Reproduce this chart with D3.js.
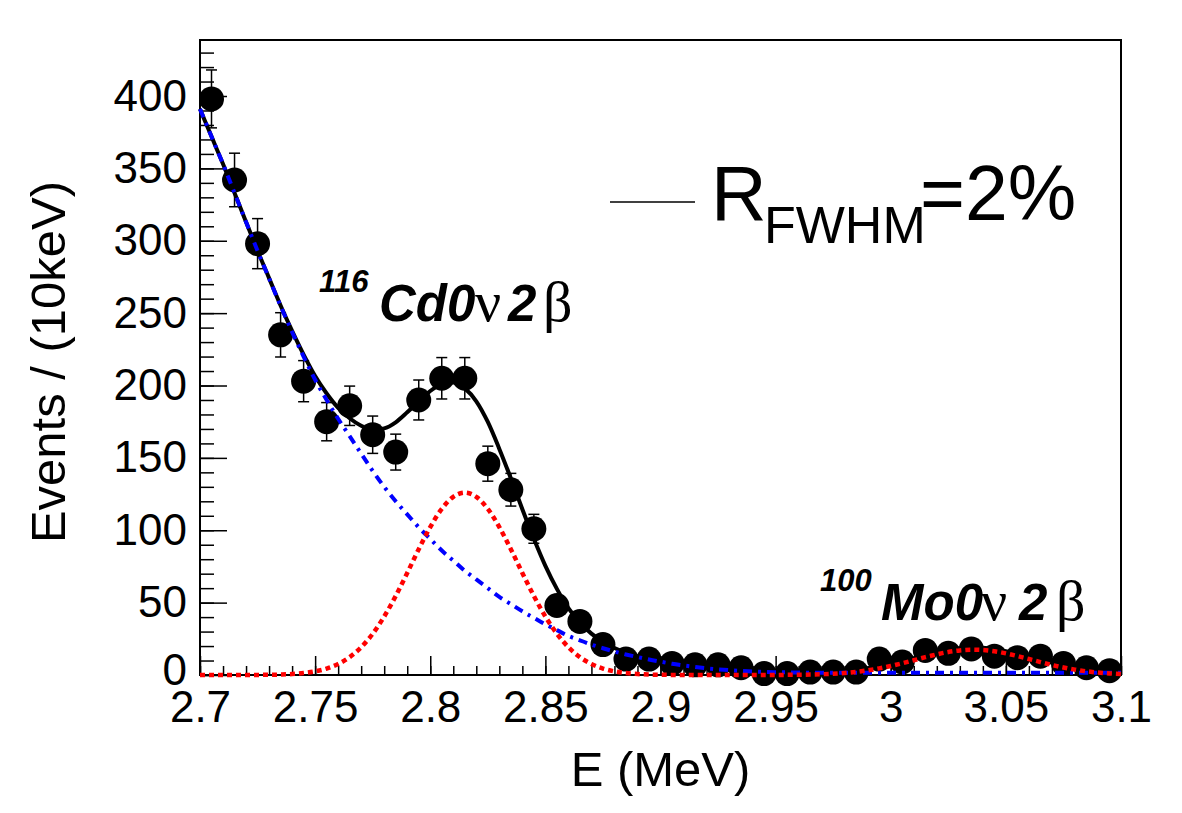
<!DOCTYPE html>
<html><head><meta charset="utf-8">
<script src="https://cdn.jsdelivr.net/npm/d3@7"></script>
<style>body{margin:0;background:#fff} svg{display:block}</style>
</head><body><svg id="c" width="1182" height="813"></svg>
<script>
// ---------- data ----------
const binCenters = [2.705,2.715,2.725,2.735,2.745,2.755,2.765,2.775,2.785,2.795,
  2.805,2.815,2.825,2.835,2.845,2.855,2.865,2.875,2.885,2.895,
  2.905,2.915,2.925,2.935,2.945,2.955,2.965,2.975,2.985,2.995,
  3.005,3.015,3.025,3.035,3.045,3.055,3.065,3.075,3.085,3.095];
const counts = [398,342,298,235,203,175,186,166,154,190,
  205,205,146,128,101,48,37,21,11,11,
  8,7,7,5,1,1,2,2,2,11,
  9,17,15,18,13,12,13,8,5,3];
const errors = [20.0,18.5,17.3,15.3,14.2,13.2,13.6,12.9,12.4,13.8,
  14.3,14.3,12.1,11.3,10.0,6.9,6.1,4.6,3.3,3.3,
  2.8,2.6,2.6,2.2,1.0,1.0,1.4,1.4,1.4,3.3,
  3.0,4.1,3.9,4.2,3.6,3.5,3.6,2.8,2.2,1.7];
const binHalfWidth = 0.005;

const curveE = [2.700,2.705,2.710,2.715,2.720,2.725,2.730,2.735,2.740,2.745,
  2.750,2.755,2.760,2.765,2.770,2.775,2.780,2.785,2.790,2.795,
  2.800,2.805,2.810,2.815,2.820,2.825,2.830,2.835,2.840,2.845,
  2.850,2.855,2.860,2.865,2.870,2.875,2.880,2.885,2.890,2.895,
  2.900,2.905,2.910,2.915,2.920,2.925,2.930,2.935,2.940,2.945,
  2.950,2.955,2.960,2.965,2.970,2.975,2.980,2.985,2.990,2.995,
  3.000,3.005,3.010,3.015,3.020,3.025,3.030,3.035,3.040,3.045,
  3.050,3.055,3.060,3.065,3.070,3.075,3.080,3.085,3.090,3.095,3.100];
const bgFit = [391,372,353,333,313,293,274,255,237,220,
  204,190,177,165,153,141,130,120,111,102,
  94,86,79,72,66,60,54,49,44,39.5,
  35,31,27,24,21,18.5,16.2,14.2,12.4,10.7,
  9.2,7.8,6.6,5.5,4.6,3.9,3.3,2.8,2.4,2.1,
  1.9,1.8,1.7,1.6,1.6,1.5,1.5,1.5,1.5,1.5,
  1.5,1.5,1.5,1.5,1.5,1.5,1.5,1.5,1.5,1.5,
  1.5,1.5,1.5,1.5,1.5,1.5,1.5,1.5,1.5,1.5,1.5];
const sigFit = [0,0,0,0,0.03,0.07,0.15,0.33,0.68,1.33,
  2.49,4.45,7.58,12.35,19.2,28.5,40.4,54.6,70.5,86.9,
  102.2,114.8,123.1,126,123.1,114.8,102.2,86.9,70.5,54.6,
  40.4,28.5,19.2,12.35,7.58,4.45,2.49,1.33,0.68,0.33,
  0.15,0.07,0.03,0,0,0,0,0.005,0.01,0.02,
  0.05,0.09,0.17,0.31,0.54,0.89,1.42,2.18,3.22,4.56,
  6.21,8.11,10.19,12.30,14.26,15.88,17.00,17.49,17.28,16.40,
  14.96,13.11,11.04,8.93,6.94,5.18,3.72,2.56,1.70,1.08,0.66];
const totFit = [391,372,353,333,313,293.1,274.2,255.3,237.7,221.3,
  206.5,194.5,184.6,177.4,172.2,169.5,170.4,174.6,181.5,188.9,
  196.2,200.8,202.1,198,189.1,174.8,156.2,135.9,114.5,94.1,
  75.4,59.5,46.2,36.35,28.58,22.95,18.69,15.53,13.08,11.03,
  9.35,7.87,6.63,5.5,4.6,3.9,3.3,2.8,2.41,2.12,
  1.95,1.89,1.87,1.91,2.14,2.39,2.92,3.68,4.72,6.06,
  7.71,9.61,11.69,13.80,15.76,17.38,18.50,18.99,18.78,17.90,
  16.46,14.61,12.54,10.43,8.44,6.68,5.22,4.06,3.20,2.58,2.16];

const xTicks = [2.7,2.75,2.8,2.85,2.9,2.95,3.0,3.05,3.1];
const xTickLabels = ["2.7","2.75","2.8","2.85","2.9","2.95","3","3.05","3.1"];
const yTicks = [0,50,100,150,200,250,300,350,400];
const yTickLabels = ["0","50","100","150","200","250","300","350","400"];

// ---------- layout ----------
const svg = d3.select("#c");
const L = 200, R = 1121, T = 40, B = 675;
const x = d3.scaleLinear().domain([2.7, 3.1]).range([L, R]);
const y = d3.scaleLinear().domain([0, 438.7]).range([B, T]);
const FONT = "'Liberation Sans', Arial, Helvetica, sans-serif";

svg.append("rect").attr("width",1182).attr("height",813).attr("fill","#fff");

// minor ticks
const gxm = svg.append("g").attr("transform",`translate(0,${B})`)
  .call(d3.axisBottom(x).ticks(40).tickSize(-9).tickFormat(""));
const gym = svg.append("g").attr("transform",`translate(${L},0)`)
  .call(d3.axisLeft(y).ticks(44).tickSize(-14).tickFormat(""));
// major ticks
const gx = svg.append("g").attr("transform",`translate(0,${B})`)
  .call(d3.axisBottom(x).tickValues(xTicks).tickSize(-19).tickPadding(16)
     .tickFormat((d,i)=>xTickLabels[i]));
const gy = svg.append("g").attr("transform",`translate(${L},0)`)
  .call(d3.axisLeft(y).tickValues(yTicks).tickSize(-27).tickPadding(13)
     .tickFormat((d,i)=>yTickLabels[i]));
[gxm,gym,gx,gy].forEach(g=>{
  g.select(".domain").remove();
  g.selectAll(".tick line").attr("stroke","#000").attr("stroke-width",1.5);
  g.selectAll("text").attr("font-family",FONT).attr("font-size",44).attr("fill","#000");
});
// keep the "0" label just clear of the "2.7" label below it
gy.selectAll(".tick text").filter((d)=>d===0).attr("dy","0.22em");

// frame
svg.append("rect").attr("x",L).attr("y",T).attr("width",R-L).attr("height",B-T)
  .attr("fill","none").attr("stroke","#000").attr("stroke-width",2);

// data points
const pts = svg.append("g");
binCenters.forEach((e,i)=>{
  const cx = x(e), cy = y(counts[i]);
  const yt = y(counts[i]+errors[i]), yb = y(Math.max(0,counts[i]-errors[i]));
  pts.append("line").attr("x1",cx).attr("x2",cx).attr("y1",yt).attr("y2",yb)
    .attr("stroke","#000").attr("stroke-width",1.5);
  pts.append("line").attr("x1",cx-5.5).attr("x2",cx+5.5).attr("y1",yt).attr("y2",yt)
    .attr("stroke","#000").attr("stroke-width",1.5);
  pts.append("line").attr("x1",cx-5.5).attr("x2",cx+5.5).attr("y1",yb).attr("y2",yb)
    .attr("stroke","#000").attr("stroke-width",1.5);
  pts.append("line").attr("x1",x(e-binHalfWidth)).attr("x2",x(e+binHalfWidth))
    .attr("y1",cy).attr("y2",cy).attr("stroke","#000").attr("stroke-width",1.5);
  pts.append("circle").attr("cx",cx).attr("cy",cy).attr("r",12.5).attr("fill","#000");
});

// curves
const line = arr => d3.line().x((d,i)=>x(curveE[i])).y(d=>y(d)).curve(d3.curveMonotoneX)(arr);
svg.append("path").attr("d",line(totFit)).attr("fill","none")
  .attr("stroke","#000").attr("stroke-width",4);
svg.append("path").attr("d",line(bgFit)).attr("fill","none")
  .attr("stroke","#0000ff").attr("stroke-width",4).attr("stroke-dasharray","9,6,3,6");
svg.append("path").attr("d",line(sigFit)).attr("fill","none")
  .attr("stroke","#ff0000").attr("stroke-width",4.5).attr("stroke-dasharray","5,4");

// axis titles
svg.append("text").attr("x",(L+R)/2).attr("y",786).attr("text-anchor","middle")
  .attr("font-family",FONT).attr("font-size",49).text("E (MeV)");
svg.append("text").attr("transform","translate(65,362) rotate(-90)").attr("text-anchor","middle")
  .attr("font-family",FONT).attr("font-size",49).text("Events / (10keV)");

// legend
svg.append("line").attr("x1",610).attr("x2",695).attr("y1",202).attr("y2",202)
  .attr("stroke","#000").attr("stroke-width",1.5);
const leg = svg.append("text").attr("font-family",FONT).attr("fill","#000");
leg.append("tspan").attr("x",711).attr("y",220).attr("font-size",77).text("R");
leg.append("tspan").attr("x",764).attr("y",243).attr("font-size",52).text("FWHM");
leg.append("tspan").attr("x",920).attr("y",220).attr("font-size",77).text("=2%");

// annotations
function label(x0, base, sup, name, pos) {
  const t = svg.append("text").attr("fill","#000");
  t.append("tspan").attr("x",x0).attr("y",base-29).attr("font-family",FONT)
    .attr("font-weight","bold").attr("font-style","italic").attr("font-size",31).text(sup);
  t.append("tspan").attr("x",pos[0]).attr("y",base).attr("font-family",FONT)
    .attr("font-weight","bold").attr("font-style","italic").attr("font-size",51).text(name);
  t.append("tspan").attr("x",pos[1]).attr("y",base).attr("font-family","'Liberation Serif', serif")
    .attr("font-size",58).text("ν");
  t.append("tspan").attr("x",pos[2]).attr("y",base).attr("font-family",FONT)
    .attr("font-weight","bold").attr("font-style","italic").attr("font-size",51).text("2");
  t.append("tspan").attr("x",pos[3]).attr("y",base).attr("font-family","'Liberation Serif', serif")
    .attr("font-size",58).text("β");
}
label(319, 321, "116", "Cd0", [379, 475, 508, 543]);
label(820, 620, "100", "Mo0", [881, 981, 1019, 1056]);
</script></body></html>
